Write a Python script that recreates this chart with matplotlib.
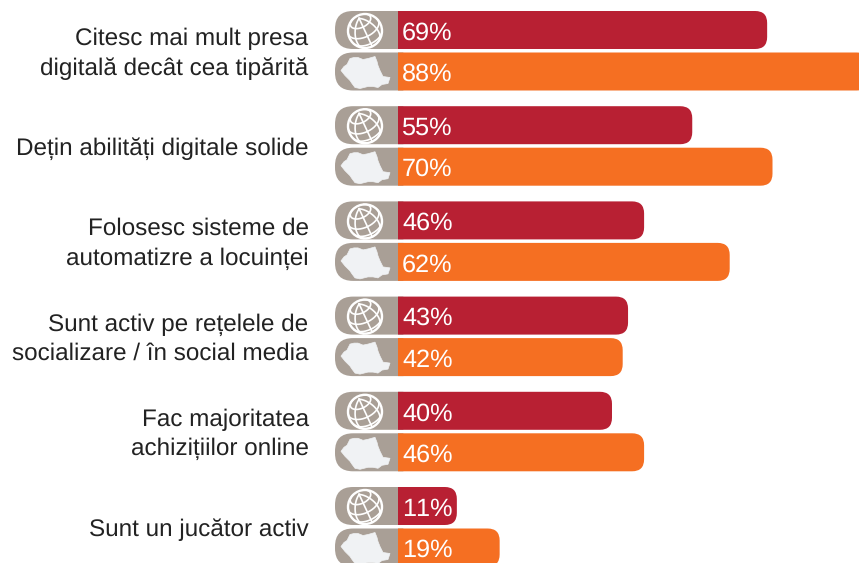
import numpy as np
import matplotlib
matplotlib.use('Agg')
import matplotlib.pyplot as plt
from matplotlib.patches import PathPatch, Polygon, Ellipse
from matplotlib.path import Path

labels = ['Citesc mai mult presa\ndigitală decât cea tipărită',
          'Dețin abilități digitale solide',
          'Folosesc sisteme de\nautomatizre a locuinței',
          'Sunt activ pe rețelele de\nsocializare / în social media',
          'Fac majoritatea\nachizițiilor online',
          'Sunt un jucător activ']
world = [69, 55, 46, 43, 40, 11]
romania = [88, 70, 62, 42, 46, 19]

RED = '#B82033'
ORANGE = '#F56F22'
GREY = '#A99F96'
ICON = '#F0F2F4'

W, H = 859, 563
ZERO_PX = 398       # where 0% sits
PX_X = 5.35         # pixels per percent
PX_Y = 95.2         # pixels per row
TOP_PX = 11
BAR_H = 38 / PX_Y
ORANGE_OFF = 41.5 / PX_Y
PILL = -63 / PX_X

# outline of the map icon, pixels from the icon centre
romania_shape = [(-24, -1), (-21, -5), (-18, -7), (-15, -13), (-11, -14), (-7, -14), (-2, -12), (3, -13),
                 (10, -15), (12, -10), (13, -6), (15, -1), (18, 5), (25, 6), (23, 12), (17, 13), (13, 16),
                 (8, 15), (3, 15), (-5, 17), (-10, 16), (-13, 12), (-15, 9), (-20, 4)]


def bar_path(x0, x1, y, h, r0, r1):
    # rounded bar in data units, radii given in pixels
    rx0, ry0 = r0 / PX_X, r0 / PX_Y
    rx1, ry1 = r1 / PX_X, r1 / PX_Y
    verts = [(x0 + rx0, y), (x1 - rx1, y), (x1, y), (x1, y + ry1), (x1, y + h - ry1), (x1, y + h),
             (x1 - rx1, y + h), (x0 + rx0, y + h), (x0, y + h), (x0, y + h - ry0), (x0, y + ry0),
             (x0, y), (x0 + rx0, y), (x0 + rx0, y)]
    codes = [Path.MOVETO, Path.LINETO, Path.CURVE3, Path.CURVE3, Path.LINETO, Path.CURVE3, Path.CURVE3,
             Path.LINETO, Path.CURVE3, Path.CURVE3, Path.LINETO, Path.CURVE3, Path.CURVE3, Path.CLOSEPOLY]
    return Path(verts, codes)


def draw_globe(ax, cx, cy, r=17):
    ax.add_patch(Ellipse((cx, cy), 2 * r / PX_X, 2 * r / PX_Y, fill=False, ec='white', lw=1.7, zorder=4))
    tilt = np.radians(35)
    roll = np.radians(25)

    def project(lat, lon):
        x = np.cos(lat) * np.sin(lon)
        y = np.sin(lat)
        z = np.cos(lat) * np.cos(lon)
        y2 = y * np.cos(tilt) - z * np.sin(tilt)
        z2 = y * np.sin(tilt) + z * np.cos(tilt)
        x3 = x * np.cos(roll) - y2 * np.sin(roll)
        y3 = x * np.sin(roll) + y2 * np.cos(roll)
        x3 = np.where(z2 < 0, np.nan, x3)
        return cx + x3 * r / PX_X, cy - y3 * r / PX_Y

    t = np.linspace(-np.pi, np.pi, 200)
    for lon in (-45, 0, 45):
        ax.plot(*project(t / 2, np.full_like(t, np.radians(lon))), color='white', lw=1.2, zorder=4)
    for lat in (-20, 15, 50):
        ax.plot(*project(np.full_like(t, np.radians(lat)), t), color='white', lw=1.2, zorder=4)


def draw_map(ax, cx, cy):
    pts = [(cx + dx / PX_X, cy + dy / PX_Y) for dx, dy in romania_shape]
    ax.add_patch(Polygon(pts, closed=True, fc=ICON, ec=ICON, lw=0.5, zorder=4))


def draw_row(ax, y, value, color):
    ax.add_patch(PathPatch(bar_path(PILL, 1, y, BAR_H, 18, 0), fc=GREY, ec='none', zorder=2))
    ax.add_patch(PathPatch(bar_path(0, value, y, BAR_H, 0, 12), fc=color, ec='none', zorder=3))
    ax.annotate(f'{value}%', xy=(0, y + BAR_H / 2), xytext=(3, -2.2), textcoords='offset points',
                color='white', fontsize=VALUE_SIZE, va='center', ha='left', zorder=5)


plt.rcParams['font.family'] = ['Liberation Sans', 'DejaVu Sans']
plt.rcParams['text.hinting'] = 'no_hinting'
plt.rcParams['text.kerning_factor'] = 6
VALUE_SIZE = 18.2
LABEL_SIZE = 17.5

fig = plt.figure(figsize=(W / 100, H / 100), dpi=100)
ax = fig.add_axes([0, 0, 1, 1])
ax.set_xlim(-ZERO_PX / PX_X, (W - ZERO_PX) / PX_X)
ax.set_ylim((H - TOP_PX) / PX_Y, -TOP_PX / PX_Y)
ax.axis('off')

icon_x = -33 / PX_X
for i in range(len(labels)):
    draw_row(ax, i, world[i], RED)
    draw_row(ax, i + ORANGE_OFF, romania[i], ORANGE)
    draw_globe(ax, icon_x, i + BAR_H / 2 + 1 / PX_Y)
    draw_map(ax, icon_x, i + ORANGE_OFF + BAR_H / 2)
    ax.annotate(labels[i], xy=(PILL, i + (ORANGE_OFF + BAR_H) / 2), xytext=(-19, -2),
                textcoords='offset points', ha='right', va='center', fontsize=LABEL_SIZE,
                color='#222222', linespacing=1.42)

fig.savefig('out.png', dpi=100)
